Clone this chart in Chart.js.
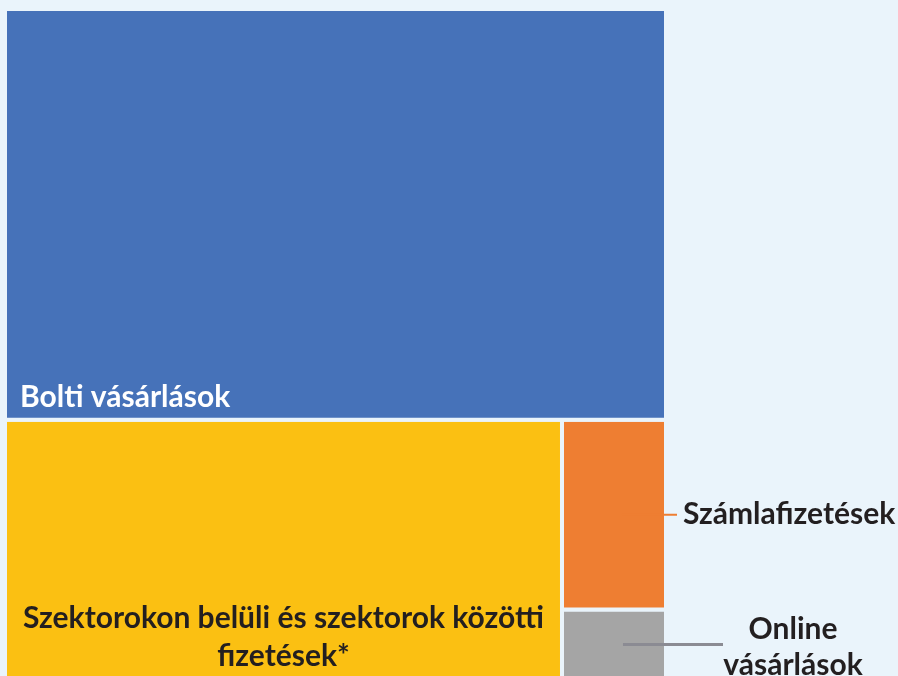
<!DOCTYPE html>
<html>
<head>
<meta charset="utf-8">
<script src="https://cdn.jsdelivr.net/npm/chart.js@4.4.1/dist/chart.umd.min.js"></script>
<style>
  html, body { margin: 0; padding: 0; background: #eaf4fb; overflow: hidden; }
  #wrap { width: 898px; height: 720px; position: relative; }
</style>
</head>
<body>
<div id="wrap"><canvas id="tree"></canvas></div>
<script>
// treemap tiles, share of total
const categories = ['Bolti vásárlások', 'Szektorokon belüli és szektorok közötti fizetések*', 'Számlafizetések', 'Online vásárlások'];
const values = [60.6, 33.2, 4.4, 1.8];
const colors = ['#4672b9', '#fbc012', '#ee7e32', '#a5a5a5'];

const BG = '#eaf4fb';
const TEXT = '#231f20';
const FONT = 'Lato, "Open Sans", sans-serif';

// slice layout: first tile on top, then the rest in a row, last two stacked in a column
function layout(vals) {
    const total = vals.reduce((a, b) => a + b, 0);
    const topH = vals[0] / total;
    const rest = total - vals[0];
    const yellowW = vals[1] / rest;
    const colSum = vals[2] + vals[3];
    const orangeH = (1 - topH) * vals[2] / colSum;
    return [
        { x0: 0, x1: 1, y0: 0, y1: topH },
        { x0: 0, x1: yellowW, y0: topH, y1: 1 },
        { x0: yellowW, x1: 1, y0: topH, y1: topH + orangeH },
        { x0: yellowW, x1: 1, y0: topH + orangeH, y1: 1 },
    ];
}

const rects = layout(values);

const datasets = rects.map((r, i) => ({
    label: categories[i],
    data: [
        { x: r.x0, y: r.y0 }, { x: r.x1, y: r.y0 },
        { x: r.x1, y: r.y1 }, { x: r.x0, y: r.y1 },
        { x: r.x0, y: r.y0 }
    ],
    fill: 'shape',
    backgroundColor: colors[i],
    borderColor: BG,
    borderWidth: 4,
    borderJoinStyle: 'miter',
    pointRadius: 0,
    tension: 0,
    clip: 4
}));

const labelPlugin = {
    id: 'tileLabels',
    afterDatasetsDraw(chart) {
        const { ctx, scales: { x, y } } = chart;
        const px = r => ({ l: x.getPixelForValue(r.x0), r: x.getPixelForValue(r.x1), t: y.getPixelForValue(r.y0), b: y.getPixelForValue(r.y1) });
        const [blue, yellow, orange, gray] = rects.map(px);
        ctx.save();
        ctx.font = 'bold 30px ' + FONT;
        ctx.textBaseline = 'alphabetic';

        // Bolti vásárlások, bottom left inside the tile
        ctx.fillStyle = '#ffffff';
        ctx.textAlign = 'left';
        ctx.fillText(categories[0], blue.l + 15, blue.b - 13);

        // yellow tile, two centred lines
        ctx.fillStyle = TEXT;
        ctx.textAlign = 'center';
        const cx = (yellow.l + yellow.r) / 2;
        ctx.fillText('Szektorokon belüli és szektorok közötti', cx, yellow.t + 208);
        ctx.fillText('fizetések*', cx, yellow.t + 246);

        // leader lines to the outside labels
        const oy = (orange.t + orange.b) / 2;
        ctx.strokeStyle = colors[2];
        ctx.lineWidth = 2;
        ctx.beginPath();
        ctx.moveTo(orange.l + 60, oy);
        ctx.lineTo(orange.r + 11, oy);
        ctx.stroke();
        ctx.textAlign = 'left';
        ctx.fillText(categories[2], orange.r + 17, oy + 9);

        const gy = gray.t + 35;
        ctx.strokeStyle = '#8b8b93';
        ctx.lineWidth = 3;
        ctx.beginPath();
        ctx.moveTo(gray.l + 61, gy);
        ctx.lineTo(gray.r + 57, gy);
        ctx.stroke();
        ctx.textAlign = 'center';
        ctx.fillText('Online', gray.r + 127, gy - 5);
        ctx.fillText('vásárlások', gray.r + 127, gy + 31);
        ctx.restore();
    }
};

new Chart(document.getElementById('tree'), {
    type: 'line',
    data: { datasets },
    options: {
        responsive: true,
        maintainAspectRatio: false,
        animation: false,
        layout: { padding: { left: 5, top: 9, right: 232, bottom: 33 } },
        plugins: { legend: { display: false }, tooltip: { enabled: false } },
        scales: {
            x: { type: 'linear', min: 0, max: 1, display: false },
            y: { type: 'linear', min: 0, max: 1, reverse: true, display: false }
        }
    },
    plugins: [labelPlugin]
});
</script>
</body>
</html>
